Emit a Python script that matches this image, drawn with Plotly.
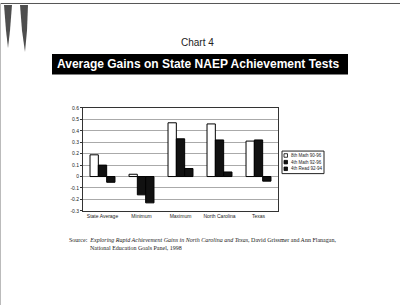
import plotly.graph_objects as go

categories = ["State Average", "Minimum", "Maximum", "North Carolina", "Texas"]
math8_90_96 = [0.19, 0.02, 0.47, 0.46, 0.31]
math4_92_96 = [0.10, -0.16, 0.33, 0.32, 0.32]
read4_92_94 = [-0.05, -0.23, 0.07, 0.04, -0.04]
series_names = ["8th Math 90-96", "4th Math 92-96", "4th Read 92-94"]
series_colors = ["white", "#111111", "#111111"]
y_ticks = [-0.3, -0.2, -0.1, 0, 0.1, 0.2, 0.3, 0.4, 0.5, 0.6]

W, H = 400, 308

def px(x):
    return x / W

def py(y):
    return 1 - y / H

fig = go.Figure()
for name, vals, col in zip(series_names, [math8_90_96, math4_92_96, read4_92_94], series_colors):
    fig.add_trace(go.Bar(x=categories, y=vals, name=name,
                         marker=dict(color=col, line=dict(color="black", width=1))))

fig.update_layout(
    width=W, height=H,
    margin=dict(l=0, r=0, t=0, b=0),
    paper_bgcolor="white",
    plot_bgcolor="white",
    barmode="group",
    bargap=0.36,
    bargroupgap=0,
    showlegend=False,
    font=dict(family="Liberation Sans, Arial, sans-serif", color="#222222"),
    xaxis=dict(domain=[px(83), px(278)], showline=True, linecolor="#333333", linewidth=1,
               mirror=True, ticks="", tickfont=dict(size=5, color="#222222"),
               showgrid=False),
    yaxis=dict(domain=[py(212), py(107)], range=[-0.3, 0.6], tickvals=y_ticks,
               ticktext=[f"{v:g}" for v in y_ticks],
               showline=True, linecolor="#333333", linewidth=1, mirror=True,
               ticks="outside", ticklen=2, tickcolor="#333333",
               tickfont=dict(size=5, color="#222222"),
               showgrid=True, gridcolor="#aaaaaa", gridwidth=1, zeroline=False),
)

# custom compact legend
fig.add_shape(type="rect", xref="paper", yref="paper",
              x0=px(282), x1=px(324), y0=py(174), y1=py(151),
              fillcolor="white", line=dict(color="#222222", width=1))
for i, (name, col) in enumerate(zip(series_names, series_colors)):
    yc = 155.5 + i * 6.8
    fig.add_shape(type="rect", xref="paper", yref="paper",
                  x0=px(284), x1=px(287.5), y0=py(yc + 1.8), y1=py(yc - 1.8),
                  fillcolor=col, line=dict(color="black", width=0.8))
    fig.add_annotation(text=name, xref="paper", yref="paper", x=px(288.5), y=py(yc),
                       xanchor="left", yanchor="middle", showarrow=False,
                       font=dict(size=4.5, color="#222222"))

# banner
fig.add_shape(type="rect", xref="paper", yref="paper",
              x0=px(52), x1=px(348), y0=py(73), y1=py(52),
              fillcolor="black", line=dict(width=0), layer="below")

fig.add_annotation(text="Chart 4", xref="paper", yref="paper", x=px(197), y=py(40),
                   xanchor="center", yanchor="middle",
                   showarrow=False, font=dict(size=10, color="#222222"))
fig.add_annotation(text="<b>Average Gains on State NAEP Achievement Tests</b>",
                   xref="paper", yref="paper", x=px(198), y=py(62),
                   xanchor="center", yanchor="middle",
                   showarrow=False, font=dict(size=12, color="white"))
fig.add_annotation(
    text="Source:  <i>Exploring Rapid Achievement Gains in North Carolina and Texas</i>, David Grissmer and Ann Flanagan,<br>"
         "              National Education Goals Panel, 1998",
    xref="paper", yref="paper", x=px(67), y=py(237), xanchor="left", yanchor="top",
    align="left", showarrow=False,
    font=dict(size=6, family="Liberation Serif, Times New Roman, serif", color="#222222"))

# scan artifacts (smudges, edges)
fig.add_shape(type="path", xref="paper", yref="paper",
              path=f"M {px(4)},{py(2)} L {px(12)},{py(2)} L {px(10)},{py(28)} L {px(8)},{py(46)} L {px(6)},{py(28)} Z",
              fillcolor="#222222", line=dict(width=0), opacity=0.8)
fig.add_shape(type="path", xref="paper", yref="paper",
              path=f"M {px(20)},{py(2)} L {px(28)},{py(2)} L {px(27)},{py(28)} L {px(25)},{py(50)} L {px(22)},{py(28)} Z",
              fillcolor="#222222", line=dict(width=0), opacity=0.8)
fig.add_shape(type="line", xref="paper", yref="paper",
              x0=0, x1=1, y0=py(0.5), y1=py(0.5), line=dict(color="#555555", width=1))
fig.add_shape(type="line", xref="paper", yref="paper",
              x0=px(0.5), x1=px(0.5), y0=0, y1=1, line=dict(color="#bbbbbb", width=1))

fig.write_html("out.html")
